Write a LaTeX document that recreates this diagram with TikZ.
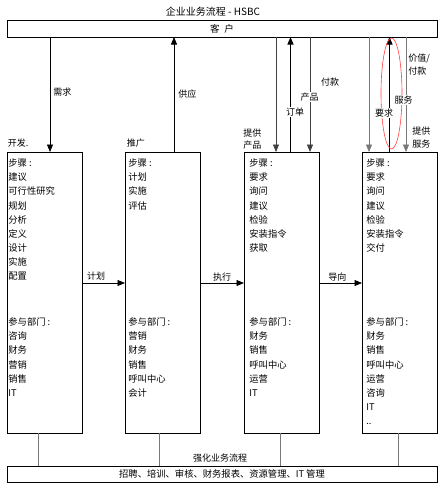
\documentclass[tikz,border=0pt]{standalone}
\usepackage{fontspec}
\setmainfont{Noto Sans CJK SC}
\usetikzlibrary{arrows.meta}
\definecolor{linegray}{RGB}{120,120,120}

\begin{document}
\begin{tikzpicture}[x=1pt,y=-1pt,line width=.8pt,
  >={Triangle[length=7.5pt,width=6pt]},
  bar/.style={draw,outer sep=0pt,inner sep=0pt,anchor=north west,minimum width=430},
  col/.style={draw,outer sep=0pt,anchor=north west,minimum width=75,minimum height=281},
  txt/.style={anchor=north west,inner sep=0pt,align=left,font=\fontsize{9.3}{14.1}\selectfont},
  lbl/.style={inner sep=.5pt,font=\fontsize{9}{12.5}\selectfont},
  tag/.style={lbl,fill=white}]
\path[use as bounding box] (0,0) rectangle (444,488);
\node[inner sep=0pt,font=\fontsize{10}{12}\selectfont] (title) at (213,12) {企业业务流程 - HSBC};
\node[bar,minimum height=16.5,font=\fontsize{9.5}{12}\selectfont] (kehu) at (7,20.5) {客\hspace{5pt}户};
% four columns
\node[col] (kaifa) at (7,152) {};
\node[col] (tuiguang) at (125,152) {};
\node[col] (xiaoshou) at (244,152) {};
\node[col] (fuwu) at (362,152) {};
\node[lbl,anchor=west] (kaifa-t) at (7,143) {开发.};
\node[lbl,anchor=west] (tuiguang-t) at (126,143) {推广};
\node[txt] (kaifa-s) at (8,158.5) {步骤 :\\建议\\可行性研究\\规划\\分析\\定义\\设计\\实施\\配置};
\node[txt] (kaifa-d) at (8,317.5) {参与部门 :\\咨询\\财务\\营销\\销售\\IT};
\node[txt] (tuiguang-s) at (128,158.5) {步骤 :\\计划\\实施\\评估};
\node[txt] (tuiguang-d) at (128,317.5) {参与部门 :\\营销\\财务\\销售\\呼叫中心\\会计};
\node[txt] (xiaoshou-s) at (249,158.5) {步骤 :\\要求\\询问\\建议\\检验\\安装指令\\获取};
\node[txt] (xiaoshou-d) at (249,317.5) {参与部门 :\\财务\\销售\\呼叫中心\\运营\\IT};
\node[txt] (fuwu-s) at (366,158.5) {步骤 :\\要求\\询问\\建议\\检验\\安装指令\\交付};
\node[txt] (fuwu-d) at (366,317.5) {参与部门 :\\财务\\销售\\呼叫中心\\运营\\咨询\\IT\\..};
% bottom bar
\node[bar,minimum height=16,font=\fontsize{9.3}{12}\selectfont] (qianghua) at (7,466) {招聘、培训、审核、财务报表、资源管理、IT 管理};
\node[lbl] (qianghua-t) at (220,458) {强化业务流程};
% x positions of the connectors
\coordinate (c-xq) at (50,0);
\coordinate (c-gy) at (174,0);
\coordinate (c-tp) at (276,0);
\coordinate (c-dd) at (290.5,0);
\coordinate (c-cp) at (310,0);
\coordinate (c-ts) at (369,0);
\coordinate (c-yq) at (389.5,0);
\coordinate (c-fw) at (406,0);
\coordinate (c-h) at (0,283);
\coordinate (c-b1) at (38,0);
\coordinate (c-b2) at (159,0);
\coordinate (c-b3) at (280,0);
\coordinate (c-b4) at (398,0);
% customer links
\draw[->] (kehu.south -| c-xq) -- (kaifa.north -| c-xq);
\draw[->] (tuiguang.north -| c-gy) -- (kehu.south -| c-gy);
\draw[->,black!75] (kehu.south -| c-tp) -- (xiaoshou.north -| c-tp);
\draw[->] (xiaoshou.north -| c-dd) -- (kehu.south -| c-dd);
\draw[->,black!75] (kehu.south -| c-cp) -- (xiaoshou.north -| c-cp);
\draw[->,linegray] (kehu.south -| c-ts) -- (fuwu.north -| c-ts);
\draw[->] (fuwu.north -| c-yq) -- (kehu.south -| c-yq);
\draw[->,linegray] (kehu.south -| c-fw) -- (fuwu.north -| c-fw);
\draw[red!75,line width=.6pt] (391.5,93.5) ellipse [x radius=10.5,y radius=55.5];
\node[lbl,anchor=west] (xuqiu) at (52.5,92) {需求};
\node[lbl,anchor=west] (gongying) at (177.5,94) {供应};
\node[lbl,anchor=west,align=left] (tigong-cp) at (242.5,139) {提供\\产品};
\node[tag] (dingdan) at (295,112) {订单};
\node[tag] (chanpin) at (309.5,97) {产品};
\node[lbl] (fukuan) at (330,82) {付款};
\node[tag] (yaoqiu) at (384,113) {要求};
\node[tag] (fuwu-l) at (403.5,100) {服务};
\node[lbl,anchor=west,align=left] (jiazhi) at (407.5,64.5) {价值/\\付款};
\node[lbl,anchor=west,align=left] (tigong-fw) at (411.5,137.5) {提供\\服务};
% process chain
\draw[->] (kaifa.east |- c-h) -- node[lbl,above=2pt,pos=.33] (jihua) {计划} (tuiguang.west |- c-h);
\draw[->] (tuiguang.east |- c-h) -- node[lbl,above=1pt] (zhixing) {执行} (xiaoshou.west |- c-h);
\draw[->] (xiaoshou.east |- c-h) -- node[lbl,above=1pt,pos=.43] (daoxiang) {导向} (fuwu.west |- c-h);
% support links
\draw[linegray] (kaifa.south -| c-b1) -- (qianghua.north -| c-b1);
\draw[linegray] (tuiguang.south -| c-b2) -- (qianghua.north -| c-b2);
\draw[linegray] (xiaoshou.south -| c-b3) -- (qianghua.north -| c-b3);
\draw[linegray] (fuwu.south -| c-b4) -- (qianghua.north -| c-b4);
\end{tikzpicture}
\end{document}
